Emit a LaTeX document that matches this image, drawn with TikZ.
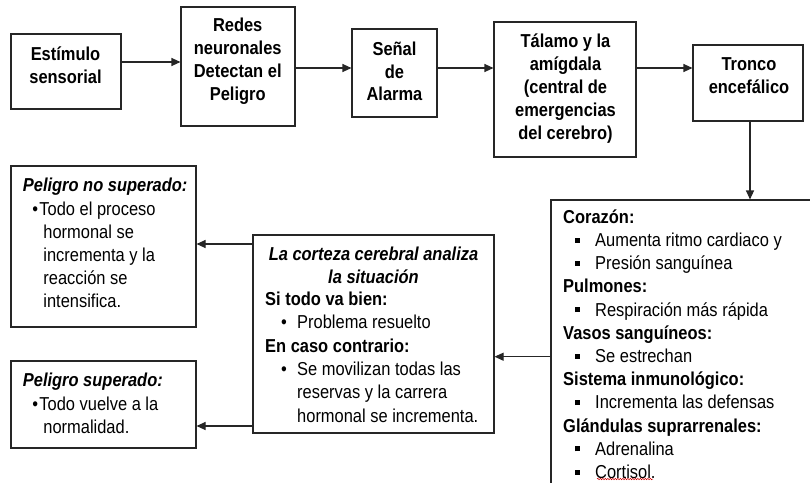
\documentclass[tikz,border=0pt]{standalone}
\usepackage{fontspec}
\setmainfont{Liberation Sans}[FakeStretch=0.88]
\usetikzlibrary{arrows.meta,decorations.pathmorphing}
\newcommand\fl{\rule{0pt}{19pt}}
\newcommand\sqb{\hspace*{12pt}\makebox[20pt][l]{\raisebox{3.8pt}{\rule{4.6pt}{5pt}}}}
\begin{document}
\begin{tikzpicture}[x=1pt,y=-1pt,
  box/.style={draw=black!85,line width=1.1pt,inner sep=0pt},
  txt/.style={inner sep=0pt,font=\fontsize{18.7}{22.8}\selectfont\bfseries,align=center,anchor=north},
  lst/.style={inner sep=0pt,font=\fontsize{18.7}{23.2}\selectfont,align=left,anchor=north west},
  arr/.style={draw=black!85,line width=1.1pt,-{Triangle[length=9pt,width=8pt]}}]
\useasboundingbox (0,0) rectangle (810,482);
\clip (0,0) rectangle (810,482);
% boxes
\node[box,minimum width=110pt,minimum height=75pt] (est) at (66,71.5) {};
\node[box,minimum width=114pt,minimum height=119pt] (redes) at (238,66.5) {};
\node[box,minimum width=85pt,minimum height=88pt] (senal) at (394.5,73) {};
\node[box,minimum width=142pt,minimum height=135pt] (tal) at (565,89.5) {};
\node[box,minimum width=110pt,minimum height=76pt] (tro) at (748,83) {};
\node[box,minimum width=279pt,minimum height=310pt] (efx) at (690.5,355) {};
\node[box,minimum width=241pt,minimum height=198pt] (cort) at (373.5,334) {};
\node[box,minimum width=185pt,minimum height=161pt] (pns) at (103.5,246.5) {};
\node[box,minimum width=185pt,minimum height=87pt] (ps) at (103.5,404.5) {};
% texts
\node[txt] (t1) at (65.5,41.7) {\fl Estímulo\\sensorial};
\node[txt] (t2) at (237.7,12.7) {\fl Redes\\neuronales\\Detectan el\\Peligro};
\node[txt] (t3) at (394.5,36) {\fl Señal\\de\\Alarma};
\node[txt] (t4) at (565.5,28.7) {\fl Tálamo y la\\amígdala\\(central de\\emergencias\\del cerebro)};
\node[txt] (t5) at (749,51) {\fl Tronco\\encefálico};
\node[lst] (fx) at (563,204) {\fl\textbf{Corazón:}\\\sqb Aumenta ritmo cardiaco y\\\sqb Presión sanguínea\\\textbf{Pulmones:}\\\sqb Respiración más rápida\\\textbf{Vasos sanguíneos:}\\\sqb Se estrechan\\\textbf{Sistema inmunológico:}\\\sqb Incrementa las defensas\\\textbf{Glándulas suprarrenales:}\\\sqb Adrenalina\\\sqb Cortisol.};
\node[txt,font=\fontsize{18.7}{23}\selectfont\bfseries\itshape] (ct) at (373.5,241) {\fl La corteza cerebral analiza\\la situación};
\node[lst,font=\fontsize{18.7}{23.4}\selectfont] (cb) at (265,286) {\fl\textbf{Si todo va bien:}\\\hspace*{16pt}\makebox[16pt][l]{•}Problema resuelto\\\textbf{En caso contrario:}\\\hspace*{16pt}\makebox[16pt][l]{•}Se movilizan todas las\\\hspace*{32pt}reservas y la carrera\\\hspace*{32pt}hormonal se incrementa.};
\node[lst] (pt) at (22.7,172.7) {\fl\textbf{\textit{Peligro no superado:}}\\\hspace*{9.5pt}\makebox[7pt][l]{•}Todo el proceso\\\hspace*{20.5pt}hormonal se\\\hspace*{20.5pt}incrementa y la\\\hspace*{20.5pt}reacción se\\\hspace*{20.5pt}intensifica.};
\node[lst] (st) at (22.7,367.7) {\fl\textbf{\textit{Peligro superado:}}\\\hspace*{9.5pt}\makebox[7pt][l]{•}Todo vuelve a la\\\hspace*{20.5pt}normalidad.};
% connectors
\draw[arr] (est.east |- 0,62) -- (redes.west |- 0,62);
\draw[arr] (redes.east |- 0,68) -- (senal.west |- 0,68);
\draw[arr] (senal.east |- 0,68) -- (tal.west |- 0,68);
\draw[arr] (tal.east |- 0,68) -- (tro.west |- 0,68);
\draw[arr] (tro.south -| 750,0) -- (efx.north -| 750,0);
\draw[arr] (efx.west |- 0,356.7) -- (cort.east |- 0,356.7);
\draw[arr] (cort.west |- 0,244) -- (pns.east |- 0,244);
\draw[arr] (cort.west |- 0,426) -- (ps.east |- 0,426);
% spell-check squiggle under Cortisol
\draw[red!80!black,line width=0.5pt,decorate,decoration={snake,amplitude=0.7pt,segment length=2.5pt}] (597,479) -- (653,479);
\end{tikzpicture}
\end{document}
